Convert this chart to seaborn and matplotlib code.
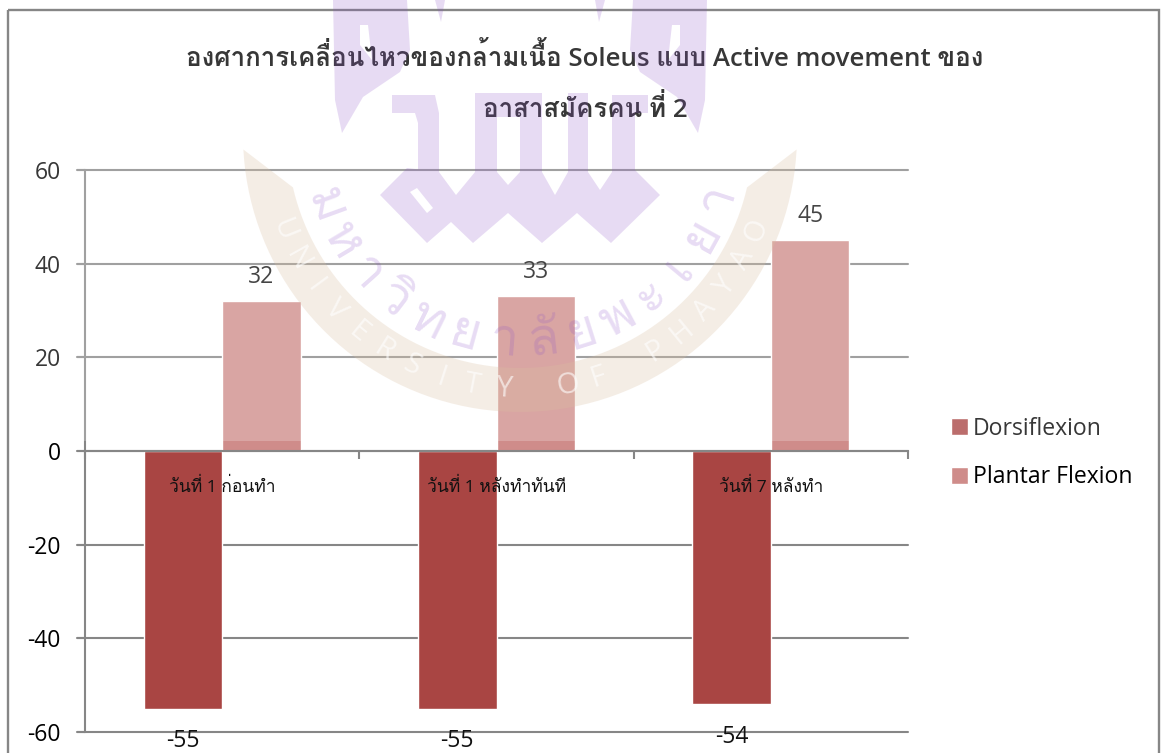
import numpy as np
import pandas as pd
import matplotlib
matplotlib.use('Agg')
import matplotlib.pyplot as plt
import seaborn as sns
from matplotlib.patches import PathPatch, Polygon, Rectangle
from matplotlib.path import Path
from matplotlib.ticker import FixedLocator

# data
days = ['วันที่ 1 ก่อนทำ', 'วันที่ 1 หลังทำทันที', 'วันที่ 7 หลังทำ']
dorsiflexion = [-55, -55, -54]
plantar_flexion = [32, 33, 45]
y_ticks = [-60, -40, -20, 0, 20, 40, 60]
title = 'องศาการเคลื่อนไหวของกล้ามเนื้อ Soleus แบบ Active movement ของ\nอาสาสมัครคน ที่ 2'
wm_thai = ['ม', 'ห', 'า', 'วิ', 'ท', 'ย', 'า', 'ลั', 'ย', 'พ', 'ะ', 'เ', 'ย', 'า']
wm_latin = 'UNIVERSITY OF PHAYAO'

W, H = 1162, 753
GREY = '#868686'

df = pd.DataFrame({
    'day': days * 2,
    'angle': dorsiflexion + plantar_flexion,
    'series': ['Dorsiflexion'] * 3 + ['Plantar Flexion'] * 3,
})

sns.set_theme(style='white')
plt.rcParams['font.family'] = ['Open Sans', 'Loma', 'DejaVu Sans']
plt.rcParams['axes.unicode_minus'] = False

fig = plt.figure(figsize=(W / 100, H / 100), dpi=100)
ax = fig.add_axes([85 / W, 1 - 732 / H, (908 - 85) / W, (732 - 170) / H])

sns.barplot(data=df, x='day', y='angle', hue='series',
            palette=['#a94543', '#cf8c8a'], width=0.572, gap=0,
            saturation=1, ax=ax, zorder=1)

ax.set_xlim(-0.5, 2.5)
ax.set_ylim(-60, 60)
ax.set_xlabel('')
ax.set_ylabel('')

# grid drawn by hand so the category labels can sit on top of the bars,
# each line starts 8 px left of the axis to double as the tick mark
ax.set_axisbelow(False)
for t in y_ticks:
    ax.axhline(t, xmin=-8 / 823, color=GREY, lw=1.5, zorder=0.5, clip_on=False)

ax.set_yticks(y_ticks)
ax.tick_params(axis='y', labelsize=16.5, length=6, width=1.5, color=GREY,
               pad=11.5, labelcolor='black', left=True)
ax.tick_params(axis='x', which='major', length=0, labelsize=12.6, pad=19.5,
               labelcolor='#111111')
ax.xaxis.set_minor_locator(FixedLocator([-0.5, 0.5, 1.5, 2.5]))
ax.tick_params(axis='x', which='minor', length=6, width=1.5, color=GREY, bottom=True)

ax.spines['top'].set_visible(False)
ax.spines['right'].set_visible(False)
ax.spines['left'].set_color(GREY)
ax.spines['left'].set_linewidth(1.5)
ax.spines['bottom'].set_color(GREY)
ax.spines['bottom'].set_linewidth(1.5)
ax.spines['bottom'].set_position(('data', 0))

for cont, pad in zip(ax.containers, [15, 9]):
    ax.bar_label(cont, fontsize=16.5, padding=pad, color='#111111')

sns.move_legend(ax, 'center left', bbox_to_anchor=(951 / W, 1 - 453 / H),
                bbox_transform=fig.transFigure, frameon=False, title=None,
                fontsize=16.6, handlelength=0.74, handleheight=0.74,
                handletextpad=0.22, labelspacing=1.06, borderpad=0,
                borderaxespad=0, labelcolor='black')

fig.text(585 / W, 1 - 83 / H, title, ha='center', va='center', fontsize=18.65,
         fontweight='semibold', color='black', linespacing=2.05)

# overlay in picture pixels: frame, page whitening and the university watermark
ov = fig.add_axes([0, 0, 1, 1], zorder=10)
ov.set_xlim(0, W)
ov.set_ylim(H, 0)
ov.axis('off')
ov.patch.set_alpha(0)

ov.add_patch(Rectangle((0, 0), W, 441, fc='white', ec='none', alpha=0.22, zorder=1))
ov.add_patch(Rectangle((8, 10), 1151, 760, fill=False, ec=GREY, lw=1.7, zorder=2))

cx, cy = 520, 135
outer = np.radians(np.linspace(3, 177, 80))
inner = np.radians(np.linspace(167, 13, 80))
band = np.vstack([
    np.c_[cx + 277 * np.cos(outer), cy + 277 * np.sin(outer)],
    np.c_[cx + 233 * np.cos(inner), cy + 233 * np.sin(inner)],
])
ov.add_patch(Polygon(band, fc='#d9bfa0', ec='none', alpha=0.27, zorder=3))


def mirror(pts):
    return [(1040 - x, y) for x, y in pts]


flame = [(333, 0), (407, 0), (410, 50), (400, 72), (363, 97), (342, 133), (335, 100)]
notch = [(360, 25), (360, 45), (372, 60), (368, 25)]
chip = [(435, 0), (445, 0), (441, 22)]
arch = [(392, 95), (392, 113), (415, 113), (418, 123), (418, 172), (439, 172),
        (439, 113), (435, 95)]
zigzag = [(380, 195), (427, 243), (451, 222), (473, 243), (508, 213), (542, 243),
          (577, 213), (611, 243), (660, 195), (635, 170), (635, 113), (648, 113),
          (648, 95), (612, 95), (612, 172), (600, 190), (588, 172), (588, 93),
          (568, 93), (568, 172), (555, 195), (542, 172), (542, 93), (475, 93),
          (475, 172), (456, 195), (439, 172), (407, 168)]
slot = [(417, 188), (433, 208), (427, 213), (410, 192)]
inner_gap = [(520, 117), (520, 172), (508, 185), (497, 172), (497, 117)]
shapes = [flame, notch, mirror(flame), mirror(notch), chip, mirror(chip),
          arch, zigzag, slot, inner_gap]
logo = Path.make_compound_path(*[Path(s + [s[0]], closed=True) for s in shapes])
ov.add_patch(PathPatch(logo, fc='#8a4fc7', ec='none', alpha=0.2, zorder=4))

for ch, th in zip(wm_thai, np.linspace(160, 18, len(wm_thai))):
    r = np.radians(th)
    ov.text(cx + 221 * np.cos(r), cy + 221 * np.sin(r), ch, fontsize=37,
            family=['Loma', 'DejaVu Sans'], color='#8a4fc7', alpha=0.2,
            rotation=90 - th, rotation_mode='anchor', ha='center', va='baseline', zorder=5)

for ch, th in zip(wm_latin, np.linspace(158, 22, len(wm_latin))):
    r = np.radians(th)
    ov.text(cx + 255 * np.cos(r), cy + 255 * np.sin(r), ch, fontsize=21,
            color='white', alpha=0.6, rotation=90 - th, rotation_mode='anchor',
            ha='center', va='center', zorder=5)

fig.savefig('out.png', dpi=100)
